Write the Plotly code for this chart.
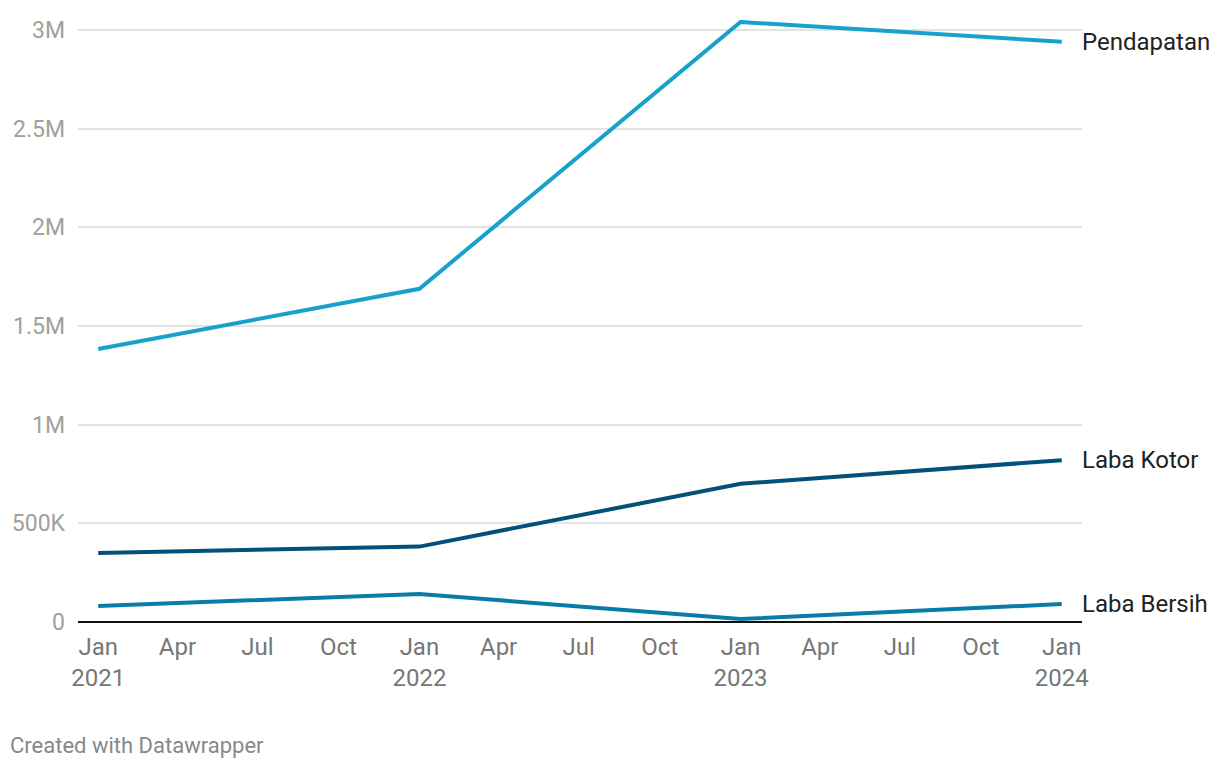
import plotly.graph_objects as go

dates = ["2021-01-01", "2022-01-01", "2023-01-01", "2024-01-01"]
pendapatan = [1383000, 1688000, 3040000, 2940000]
laba_kotor = [350000, 382000, 700000, 820000]
laba_bersih = [81000, 142000, 15000, 91000]

series = [
    ("Pendapatan", pendapatan, "#18a1cd"),
    ("Laba Kotor", laba_kotor, "#03507a"),
    ("Laba Bersih", laba_bersih, "#0a7ba6"),
]

tick_dates = ["2021-01-01", "2021-04-01", "2021-07-01", "2021-10-01",
              "2022-01-01", "2022-04-01", "2022-07-01", "2022-10-01",
              "2023-01-01", "2023-04-01", "2023-07-01", "2023-10-01",
              "2024-01-01"]
tick_text = ["Jan<br>2021", "Apr", "Jul", "Oct",
             "Jan<br>2022", "Apr", "Jul", "Oct",
             "Jan<br>2023", "Apr", "Jul", "Oct",
             "Jan<br>2024"]
y_vals = [0, 500000, 1000000, 1500000, 2000000, 2500000, 3000000]
y_text = ["0", "500K", "1M", "1.5M", "2M", "2.5M", "3M"]

fig = go.Figure()
for name, vals, color in series:
    fig.add_trace(go.Scatter(x=dates, y=vals, mode="lines", name=name,
                             line=dict(color=color, width=4), hoverinfo="skip"))
    fig.add_annotation(x=1, xref="paper", y=vals[-1], yref="y", text=name,
                       showarrow=False, xanchor="left", yanchor="middle", xshift=-2,
                       font=dict(family="Roboto", size=24, color="#222222"))

fig.add_annotation(x=0, xref="paper", y=0, yref="paper", text="Created with Datawrapper",
                   showarrow=False, xanchor="left", yanchor="middle",
                   xshift=-70, yshift=-123,
                   font=dict(family="Roboto", size=22, color="#888888"))

fig.update_layout(
    width=1212, height=760,
    margin=dict(l=70, r=138, t=12, b=146, autoexpand=False),
    plot_bgcolor="white", paper_bgcolor="white",
    showlegend=False,
    font=dict(family="Roboto"),
    xaxis=dict(type="date", range=["2020-12-09", "2024-01-24"], automargin=False,
               tickmode="array", tickvals=tick_dates, ticktext=tick_text,
               showgrid=False, zeroline=False, showline=False, ticks="",
               tickfont=dict(family="Roboto", size=24, color="#777777"),
               ticklabelstandoff=8),
    yaxis=dict(range=[0, 3050000], tickmode="array", tickvals=y_vals, ticktext=y_text,
               automargin=False,
               showgrid=True, gridcolor="#e3e3e3", gridwidth=1.5,
               zeroline=True, zerolinecolor="#111111", zerolinewidth=2,
               showline=False, ticks="",
               tickfont=dict(family="Roboto", size=23, color="#a0a0a0"),
               ticklabelstandoff=12),
)

fig.write_html("out.html")
